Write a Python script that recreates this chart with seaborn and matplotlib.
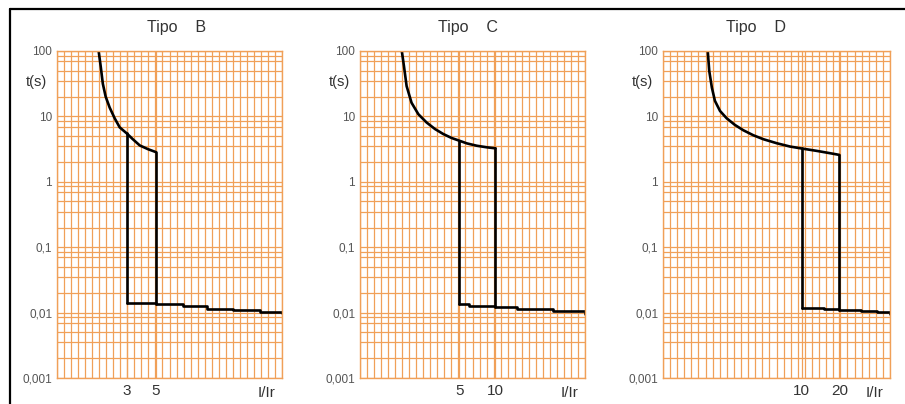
import numpy as np
import matplotlib
matplotlib.use("Agg")
import matplotlib.pyplot as plt
import matplotlib.ticker as mticker
import matplotlib.transforms as mtransforms
from matplotlib.lines import Line2D
import seaborn as sns

# ---------------- DATA ----------------

tipos = ["B", "C", "D"]
trip_points = [[3, 5], [5, 10], [10, 20]]
trip_labels = [["3", "5"], ["5", "10"], ["10", "20"]]

# thermal curve  (I/Ir, t in s)
curve_b_i = [1.83, 1.90, 1.97, 2.07, 2.22, 2.43, 2.65, 3.0, 3.33, 3.77, 4.35, 5.0]
curve_b_t = [100, 57.2, 31.6, 20.1, 13.7, 9.3, 6.8, 5.5, 4.5, 3.6, 3.16, 2.85]

curve_c_i = [1.66, 1.73, 1.82, 2.0, 2.28, 2.67, 3.14, 3.68, 4.32, 5.0, 5.77, 6.98, 8.45, 10.0]
curve_c_t = [100, 58.7, 29.1, 16.2, 10.8, 8.07, 6.4, 5.37, 4.67, 4.25, 3.87, 3.56, 3.37, 3.25]

curve_d_i = [1.77, 1.82, 1.91, 2.02, 2.22, 2.51, 2.92, 3.41, 4.10, 4.93, 6.31, 8.06, 10.0, 13.2, 16.8, 20.0]
curve_d_t = [100, 49.5, 27.6, 17.3, 12.1, 9.35, 7.41, 6.14, 5.15, 4.48, 3.89, 3.46, 3.23, 2.97, 2.74, 2.58]

# instantaneous (magnetic) floor
floor_b_i = [3.0, 5.0, 8.0, 12.2, 19.3, 31.3, 46.0]
floor_b_t = [0.0142, 0.0134, 0.0128, 0.0115, 0.0108, 0.0103, 0.0098]

floor_c_i = [5.0, 6.0, 10.0, 15.1, 30.3, 55.6]
floor_c_t = [0.0137, 0.0128, 0.0122, 0.0115, 0.0106, 0.0096]

floor_d_i = [10.0, 15.0, 20.0, 30.0, 40.0, 50.9]
floor_d_t = [0.0118, 0.0114, 0.0111, 0.0106, 0.0102, 0.0095]

curves_i = [curve_b_i, curve_c_i, curve_d_i]
curves_t = [curve_b_t, curve_c_t, curve_d_t]
floors_i = [floor_b_i, floor_c_i, floor_d_i]
floors_t = [floor_b_t, floor_c_t, floor_d_t]

x_limits = [(0.88, 46.0), (0.745, 55.6), (0.776, 50.9)]
y_ticks = [100, 10, 1, 0.1, 0.01, 0.001]
y_tick_labels = ["100", "10", "1", "0,1", "0,01", "0,001"]

# ---------------- LAYOUT ----------------

W, H = 905, 404
axes_left_px = [57, 360, 663]
axes_width_px = [225, 225, 227]
axes_top_px, axes_bottom_px = 51, 378
title_x = [0.53, 0.48, 0.41]

GRID = "#F0A058"

sns.set_style("white")
plt.rcParams["font.family"] = ["Liberation Sans", "DejaVu Sans"]

fig = plt.figure(figsize=(W / 100, H / 100), dpi=100)

for k, tipo in enumerate(tipos):
    ax = fig.add_axes([axes_left_px[k] / W, (H - axes_bottom_px) / H,
                       axes_width_px[k] / W, (axes_bottom_px - axes_top_px) / H])
    ax.set_xscale("log")
    ax.set_yscale("log")
    ax.set_xlim(*x_limits[k])
    ax.set_ylim(0.001, 100)

    # graph-paper grid
    ax.xaxis.set_major_locator(mticker.FixedLocator(trip_points[k]))
    ax.xaxis.set_major_formatter(mticker.FixedFormatter(trip_labels[k]))
    ax.xaxis.set_minor_locator(mticker.FixedLocator(np.geomspace(*x_limits[k], 33)))
    ax.xaxis.set_minor_formatter(mticker.NullFormatter())
    ax.yaxis.set_major_locator(mticker.FixedLocator(y_ticks))
    ax.yaxis.set_major_formatter(mticker.FixedFormatter(y_tick_labels))
    ax.yaxis.set_minor_locator(mticker.LogLocator(subs=[2, 3.5, 5, 7, 8.5]))
    ax.yaxis.set_minor_formatter(mticker.NullFormatter())
    ax.grid(which="both", color=GRID, lw=0.9)
    ax.set_axisbelow(True)
    for s in ax.spines.values():
        s.set_color(GRID)
        s.set_linewidth(1.0)
    ax.tick_params(which="both", length=0)
    ax.tick_params(axis="y", labelsize=8.5, labelcolor="#555555", pad=3.5)
    ax.tick_params(axis="x", labelsize=11, labelcolor="#333333", pad=4)

    # curve
    ci, ct = curves_i[k], curves_t[k]
    fi, ft = floors_i[k], floors_t[k]
    i1, i2 = trip_points[k]
    sns.lineplot(x=ci, y=ct, ax=ax, color="black", lw=1.9, sort=False, estimator=None)
    sns.lineplot(x=fi, y=ft, ax=ax, color="black", lw=1.9, sort=False, estimator=None,
                 drawstyle="steps-post")
    sns.lineplot(x=[i1, i1], y=[ct[ci.index(i1)], ft[fi.index(i1)]], ax=ax,
                 color="black", lw=1.9, sort=False, estimator=None)
    sns.lineplot(x=[i2, i2], y=[ct[ci.index(i2)], ft[fi.index(i2)]], ax=ax,
                 color="black", lw=1.9, sort=False, estimator=None)

    trans = mtransforms.blended_transform_factory(ax.transAxes, ax.transData)
    ax.text(-0.045, 33, "t(s)", transform=trans, ha="right", va="center",
            fontsize=10.5, color="#333333")
    ax.text(0.93, -0.045, "I/Ir", transform=ax.transAxes, ha="center", va="center",
            fontsize=11, color="#333333")
    ax.text(title_x[k], 1.073, "Tipo    " + tipo, transform=ax.transAxes,
            ha="center", va="center", fontsize=11.5, color="#333333")
    ax.set_xlabel("")
    ax.set_ylabel("")

# frame of the picture (top and left only)
fig.add_artist(Line2D([10 / W, 1], [1 - 9 / H, 1 - 9 / H], color="black", lw=1.6))
fig.add_artist(Line2D([10 / W, 10 / W], [0, 1 - 9 / H], color="black", lw=1.6))

fig.savefig("out.png", dpi=100)
